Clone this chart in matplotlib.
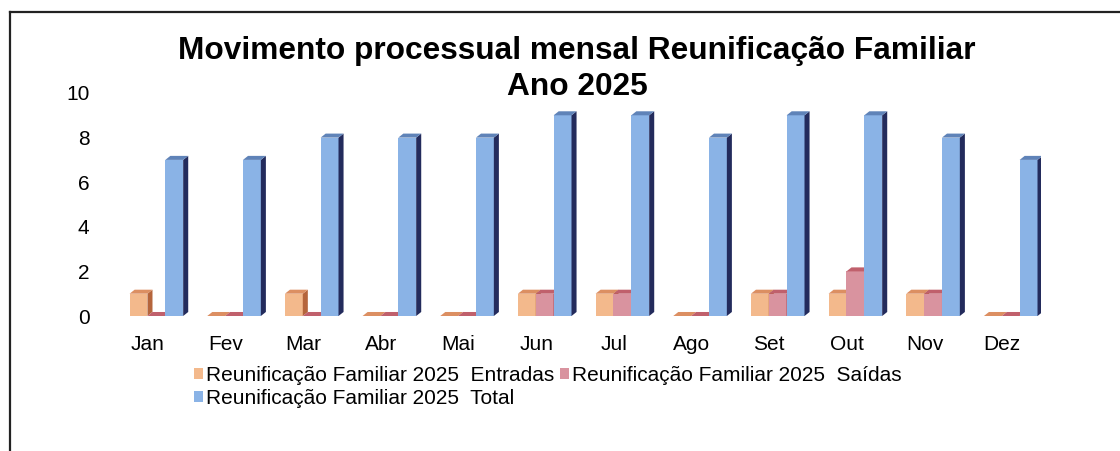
import matplotlib
matplotlib.use("Agg")
import matplotlib.pyplot as plt
from matplotlib.patches import Polygon
from matplotlib.lines import Line2D
from matplotlib.patches import Patch

plt.rcParams["font.family"] = ["Liberation Sans", "DejaVu Sans"]

# -----------------------------
# DATA
# -----------------------------
months = ["Jan", "Fev", "Mar", "Abr", "Mai", "Jun", "Jul", "Ago", "Set", "Out", "Nov", "Dez"]
entradas = [1, 0, 1, 0, 0, 1, 1, 0, 1, 1, 1, 0]
saidas = [0, 0, 0, 0, 0, 1, 1, 0, 1, 2, 1, 0]
total = [7, 7, 8, 8, 8, 9, 9, 8, 9, 9, 8, 7]

series_labels = [
    "Reunificação Familiar 2025  Entradas",
    "Reunificação Familiar 2025  Saídas",
    "Reunificação Familiar 2025  Total",
]
title_text = "Movimento processual mensal Reunificação Familiar\nAno 2025"

# front / top / side colours per series
styles = [
    ("#f3b98c", "#dc8f62", "#b5653c"),
    ("#d9939f", "#c0606c", "#9c3a48"),
    ("#8ab3e6", "#5f83b8", "#232b5c"),
]

# -----------------------------
# FIGURE
# -----------------------------
fig = plt.figure(figsize=(11.2, 4.51), dpi=100)
fig.patch.set_facecolor("white")

# outer frame (top + left edge only visible)
fig.add_artist(Line2D([10 / 1120, 1.0], [1 - 12 / 451, 1 - 12 / 451],
                      transform=fig.transFigure, color="#222222", lw=1.6))
fig.add_artist(Line2D([10 / 1120, 10 / 1120], [0.0, 1 - 12 / 451],
                      transform=fig.transFigure, color="#222222", lw=1.6))

ax = fig.add_axes([109 / 1120, 135 / 451, (1041 - 109) / 1120, (358 - 135) / 451])

bar_w = 0.23
shift = 0.11      # groups sit slightly right of the labels (3D look)
dx = 0.065        # depth offsets in data units
dy = 0.18

all_series = [entradas, saidas, total]
for s, vals in enumerate(all_series):
    front, top, side = styles[s]
    xs = [i + shift + (s - 1) * bar_w for i in range(len(months))]
    ax.bar(xs, vals, width=bar_w, color=front, edgecolor="none", zorder=2 + s)
    for x, v in zip(xs, vals):
        left = x - bar_w / 2
        right = x + bar_w / 2
        side_poly = Polygon([(right, 0), (right + dx, dy), (right + dx, v + dy), (right, v)],
                            closed=True, facecolor=side, edgecolor="none", zorder=2 + s)
        top_poly = Polygon([(left, v), (left + dx, v + dy), (right + dx, v + dy), (right, v)],
                           closed=True, facecolor=top, edgecolor="none", zorder=2 + s)
        ax.add_patch(side_poly)
        ax.add_patch(top_poly)

ax.set_xlim(-0.5, len(months) - 0.5)
ax.set_ylim(0, 10)
ax.set_yticks(range(0, 11, 2))
ax.set_xticks(range(len(months)))
ax.set_xticklabels(months)
ax.tick_params(axis="both", length=0, labelsize=15)
ax.tick_params(axis="x", pad=14)
ax.tick_params(axis="y", pad=14)
for sp in ax.spines.values():
    sp.set_visible(False)

fig.text(577 / 1120, 1 - 69 / 451, title_text, ha="center", va="center",
         fontsize=22.8, fontweight="bold", linespacing=1.28)

# legend: two per row, read row-wise
handles = [Patch(facecolor=styles[i][0], edgecolor="none") for i in range(3)]
order = [0, 2, 1]
leg = fig.legend([handles[i] for i in order], [series_labels[i] for i in order],
                 ncol=2, loc="upper left", bbox_to_anchor=(194 / 1120, 1 - 366 / 451),
                 frameon=False, fontsize=15, handlelength=0.45, handleheight=0.45,
                 handletextpad=0.15, columnspacing=0.25, labelspacing=0.2,
                 borderaxespad=0, borderpad=0)

fig.savefig("out.png", dpi=100)
